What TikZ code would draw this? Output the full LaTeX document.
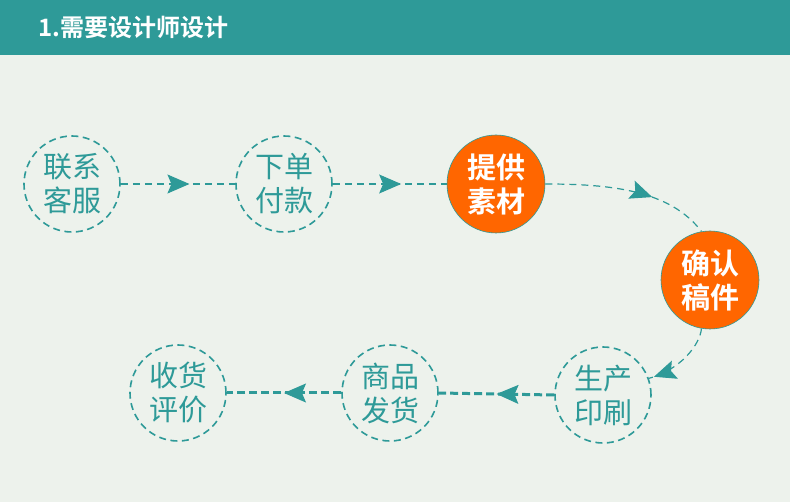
\documentclass[tikz,border=0pt]{standalone}
\usepackage{fontspec}
\setmainfont{Noto Sans CJK SC}
\newfontfamily\cjkb{Noto Sans CJK SC Bold}
\usetikzlibrary{arrows.meta,decorations.markings}
\definecolor{teal1}{HTML}{2E9A98}
\definecolor{bgc}{HTML}{EDF2EC}
\definecolor{org}{HTML}{FF6600}
\tikzset{
  stepc/.style={circle,minimum size=96pt,inner sep=0pt,draw=teal1,line width=1.6pt,dash pattern=on 7pt off 4.5pt,text=teal1,font=\fontsize{29pt}{34pt}\selectfont,align=center},
  stepo/.style={circle,minimum size=98pt,inner sep=0pt,fill=org,draw=teal1,line width=0.6pt,text=white,font=\cjkb\fontsize{29pt}{34pt}\selectfont,align=center},
  midarrow/.style={postaction={decorate},decoration={markings,mark=at position #1 with {\arrow[solid,line width=1pt]{Stealth[length=22pt,width=19pt,inset=4pt]}}}},
  conthin/.style={draw=teal1,line width=1.2pt,dash pattern=on 7pt off 5pt},
  conthick/.style={draw=teal1,line width=3pt,dash pattern=on 8pt off 4pt},
}
\begin{document}
\begin{tikzpicture}[x=1pt,y=-1pt]
\fill[bgc] (0,0) rectangle (790,502);
\useasboundingbox (0,0) rectangle (790,502);
\fill[teal1] (0,0) rectangle (790,55);
\node[anchor=west,text=white,font=\cjkb\fontsize{24pt}{28pt}\selectfont,inner sep=0pt] (title) at (38,27) {1.需要设计师设计};
\node[stepc] (a) at (72,184) {联系\\客服};
\node[stepc] (b) at (284,184) {下单\\付款};
\node[stepo] (c) at (496,184) {提供\\素材};
\node[stepo] (d) at (710,280) {确认\\稿件};
\node[stepc] (e) at (603,395) {生产\\印刷};
\node[stepc] (f) at (390,393) {商品\\发货};
\node[stepc] (g) at (178,393) {收货\\评价};
\draw[conthin,midarrow=0.6] (a) -- (b);
\draw[conthin,midarrow=0.6] (b) -- (c);
\draw[conthin,midarrow=0.64] (c.east) .. controls (610,184) and (670,190) .. (d.100);
\draw[conthin,midarrow=0.93] (d.260) .. controls (700,345) and (680,370) .. (e.20);
\draw[conthick,midarrow=0.5] (e.west) -- (f.east);
\draw[conthick,midarrow=0.5] (f.west) -- (g.east);
\end{tikzpicture}
\end{document}
